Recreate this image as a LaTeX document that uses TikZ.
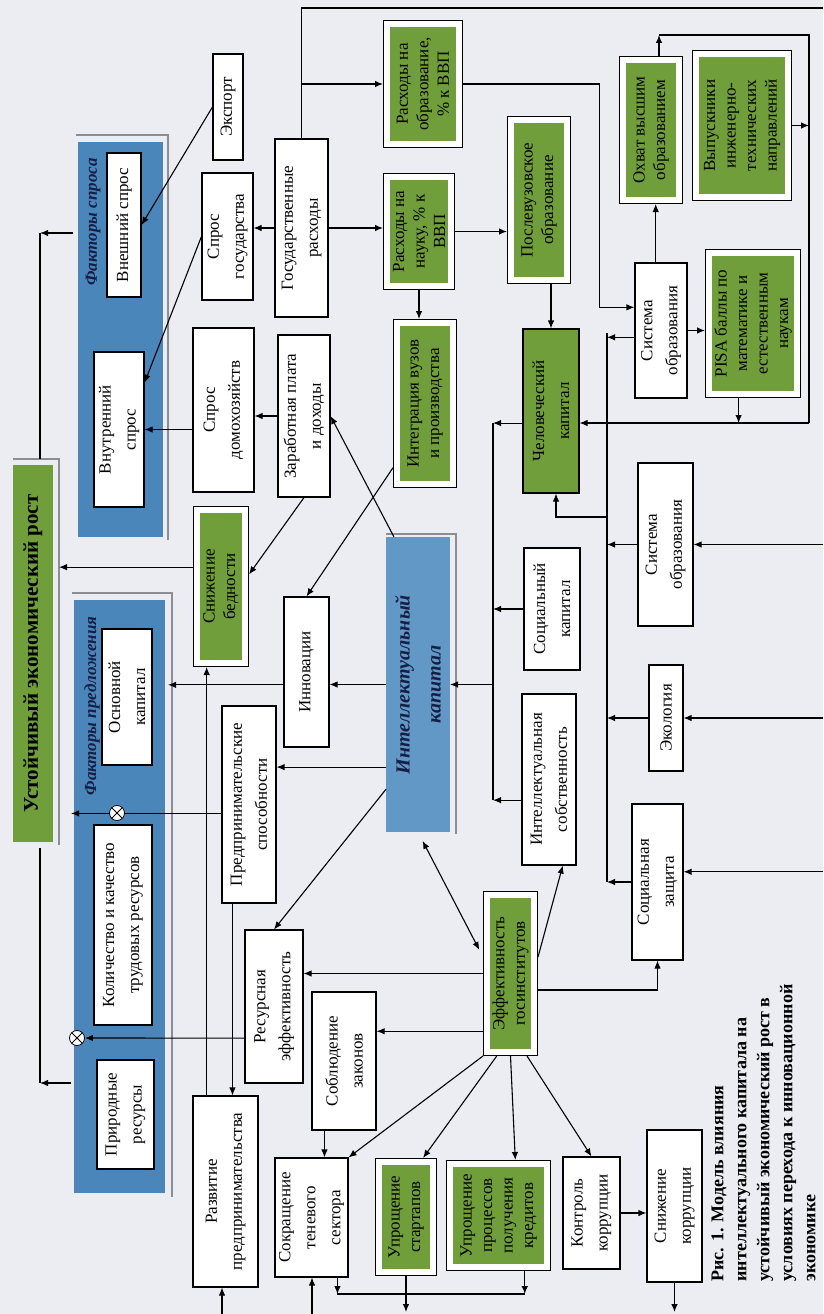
\documentclass[tikz,border=0pt]{standalone}
\usepackage{fontspec}
\setmainfont{Liberation Serif}
\usetikzlibrary{calc, arrows.meta}

\definecolor{paper}{RGB}{236,237,242}
\definecolor{leafgreen}{RGB}{112,158,58}
\definecolor{panelblue}{RGB}{74,134,186}
\definecolor{capblue}{RGB}{98,152,198}
\definecolor{shadowgray}{RGB}{140,142,150}
\definecolor{navy}{RGB}{22,30,68}

\begin{document}
\begin{tikzpicture}[
    x=1pt, y=-1pt,
    line width=1.1pt,
    >={Latex[length=8pt,width=6.5pt]},
    box/.style={draw, fill=white, rotate=90, align=center, inner sep=2pt,
        font=\fontsize{17}{25}\selectfont},
    gbox/.style={box, fill=leafgreen, draw=white, line width=6pt,
        preaction={draw=black, line width=8.4pt}, outer sep=4.2pt, inner sep=1pt,
        font=\fontsize{17}{20.5}\selectfont},
    gfill/.style={box, fill=leafgreen},
    panel/.style={rotate=90, fill=panelblue, inner sep=0pt, outer sep=0pt},
    paneltitle/.style={rotate=90, text=navy, inner sep=0pt,
        font=\bfseries\itshape\fontsize{17}{20}\selectfont},
    shade line/.style={shadowgray, line width=1.6pt},
    otimes/.style={circle, draw, fill=white, minimum size=15pt, inner sep=0pt,
        line width=0.8pt,
        path picture={\draw[line width=0.8pt]
            (path picture bounding box.north west) -- (path picture bounding box.south east)
            (path picture bounding box.south west) -- (path picture bounding box.north east);}}
]
\fill[paper] (0,0) rectangle (823,1314);
\useasboundingbox (0,0) rectangle (823,1314);

% growth and the two groups of factors
\node[rotate=90, fill=leafgreen, minimum width=377pt, minimum height=40pt, outer sep=6pt,
    font=\bfseries\fontsize{21}{24}\selectfont] (ustoich) at (33,653.5) {Устойчивый экономический рост};
\node[panel, minimum width=395pt, minimum height=85pt] (sprospanel) at (120.5,339.5) {};
\node[panel, minimum width=593pt, minimum height=91pt, outer sep=3pt] (predlpanel) at (119.5,896.5) {};
\node[rotate=90, fill=capblue, minimum width=295pt, minimum height=64pt, outer sep=0pt, align=center,
    text=navy, font=\bfseries\itshape\fontsize{20}{31}\selectfont] (intkap) at (418,684.5) {Интеллектуальный\\капитал};

\draw[shade line] ($(ustoich.north east)+(6,0)$) -- (ustoich.south east) -- ($(ustoich.south west)+(0,-3)$);
\draw[shade line] ($(sprospanel.north east)+(-2,-7)$) -- ($(sprospanel.south east)+(5,-7)$) -- ($(sprospanel.south west)+(5,3)$);
\draw[shade line] ($(predlpanel.north east)+(1,-4)$) -- ($(predlpanel.south east)+(4,-4)$) -- ($(predlpanel.south west)+(4,1)$);
\draw[shade line] ($(intkap.north east)+(0,-3)$) -- ($(intkap.south east)+(6,-3)$) -- ($(intkap.south west)+(6,2)$);

\node[paneltitle] (sprostitle) at (93,222) {Факторы спроса};
\node[paneltitle] (predltitle) at (92,706) {Факторы предложения};

\node[box, minimum width=144pt, minimum height=34pt] (vnesh) at (124,225) {Внешний спрос};
\node[box, minimum width=155pt, minimum height=50pt] (vnutr) at (119,429.5) {Внутренний\\спрос};
\node[box, minimum width=136pt, minimum height=50pt] (osnkap) at (127,697) {Основной\\капитал};
\node[box, minimum width=200pt, minimum height=58pt] (kolich) at (123,925) {Количество и качество\\трудовых ресурсов};
\node[box, minimum width=109pt, minimum height=57pt] (prirod) at (125.5,1114.5) {Природные\\ресурсы};

% demand side
\node[box, minimum width=106pt, minimum height=30pt] (export) at (228,107) {Экспорт};
\node[box, minimum width=127pt, minimum height=51pt] (sprosgos) at (227.5,236.5) {Спрос\\государства};
\node[box, minimum width=178pt, minimum height=53pt] (gosrash) at (301.5,228) {Государственные\\расходы};
\node[box, minimum width=164pt, minimum height=61pt] (sprosdom) at (223.5,410) {Спрос\\домохозяйств};
\node[box, minimum width=162pt, minimum height=52pt] (zarplata) at (304,416) {Заработная плата\\и доходы};
\node[gbox, minimum width=152.6pt, minimum height=47.6pt] (snizbed) at (221,586.5) {Снижение\\бедности};

% supply side
\node[box, minimum width=150pt, minimum height=45pt] (innov) at (306.5,672) {Инновации};
\node[box, minimum width=197pt, minimum height=54pt] (predspos) at (249,804.5) {Предпринимательские\\способности};
\node[box, minimum width=153pt, minimum height=58pt] (resurs) at (274,1006.5) {Ресурсная\\эффективность};
\node[box, minimum width=138pt, minimum height=64pt] (soblud) at (344,1061) {Соблюдение\\законов};
\node[box, minimum width=191pt, minimum height=65pt] (razvit) at (225.5,1191.5) {Развитие\\предпринимательства};
\node[box, minimum width=119pt, minimum height=73pt] (sokr) at (311.5,1217.5) {Сокращение\\теневого\\сектора};
\node[gbox, minimum width=109.6pt, minimum height=53.6pt] (uprstart) at (406,1217) {Упрощение\\стартапов};
\node[gbox, minimum width=102.6pt, minimum height=96.6pt] (uprkred) at (498.5,1215.5) {Упрощение\\процессов\\получения\\кредитов};
\node[box, minimum width=112pt, minimum height=57pt] (kontrol) at (591.5,1213) {Контроль\\коррупции};
\node[box, minimum width=152pt, minimum height=55pt] (snizkor) at (674.5,1206) {Снижение\\коррупции};
\node[gbox, minimum width=156.6pt, minimum height=46.6pt] (effgos) at (510.5,973.5) {Эффективность\\госинститутов};

% education and human capital
\node[gbox, minimum width=119.6pt, minimum height=71.6pt] (rashobr) at (423,84) {Расходы на\\образование,\\\% к ВВП};
\node[gbox, minimum width=108.6pt, minimum height=63.6pt] (rashnauk) at (419,231.5) {Расходы на\\науку, \% к\\ВВП};
\node[gbox, minimum width=160.6pt, minimum height=55.6pt] (integr) at (425,403.5) {Интеграция вузов\\и производства};
\node[gbox, minimum width=159.6pt, minimum height=55.6pt] (poslevuz) at (539,200) {Послевузовское\\образование};
\node[gfill, minimum width=164pt, minimum height=56pt] (chelkap) at (551,411) {Человеческий\\капитал};
\node[box, minimum width=122pt, minimum height=56pt] (socsap) at (552,609) {Социальный\\капитал};
\node[box, minimum width=171pt, minimum height=54pt] (intsob) at (549,779.5) {Интеллектуальная\\собственность};
\node[gbox, minimum width=139.6pt, minimum height=55.6pt] (ohvat) at (651,130) {Охват высшим\\образованием};
\node[gbox, minimum width=142.6pt, minimum height=91.6pt] (vypusk) at (742,125.5) {Выпускники\\инженерно-\\технических\\направлений};
\node[box, minimum width=135pt, minimum height=52pt] (sysobr1) at (661,330.5) {Система\\образования};
\node[gbox, minimum width=140.6pt, minimum height=87.6pt] (pisa) at (753,323.5) {PISA баллы по\\математике и\\естественным\\наукам};
\node[box, minimum width=163pt, minimum height=55pt] (sysobr2) at (665.5,544.5) {Система\\образования};
\node[box, minimum width=106pt, minimum height=34pt] (ekol) at (666,718) {Экология};
\node[box, minimum width=156pt, minimum height=51pt] (soczash) at (657.5,882) {Социальная\\защита};

\node[rotate=90, anchor=north west, align=left, inner sep=0pt,
    font=\bfseries\fontsize{18}{23}\selectfont] (caption) at (711,1282)
    {Рис. 1. Модель влияния\\интеллектуального капитала на\\устойчивый экономический рост в\\условиях перехода к инновационной\\экономике};

% demand connectors
\draw[->] (export.north) -- (vnesh.south);
\draw[->] (sprosgos.north) -- ($(vnutr.south)!0.6!(vnutr.south east)$);
\draw[->] (gosrash.north) -- (gosrash.north -| sprosgos.south);
\draw[->] (gosrash.south) -- (gosrash.south -| rashnauk.north);
\coordinate (topleft) at (302,8);
\coordinate (topright) at (823,8);
\draw (gosrash.east) -- (gosrash.east |- topleft) -- (topright);
\draw[->] (gosrash.east |- rashobr) -- (rashobr.north);
\draw[->] (sprosdom.north |- vnutr.south) -- (vnutr.south);
\draw[->] (zarplata.north) -- (zarplata.north -| sprosdom.south);
\draw[->] (zarplata.west) -- ($(snizbed.south)!0.15!(snizbed.south east)$);

% into growth
\coordinate (up1) at (40,233);
\coordinate (up2) at (40,1083);
\draw[->] ($(sprospanel.north |- up1)+(-5,0)$) -- (up1);
\draw (up1) -- (up1 |- ustoich.east);
\draw[->] (predlpanel.north |- up2) -- (up2);
\draw (up2) -- (up2 |- ustoich.west);
\coordinate (sb) at ($(snizbed.north)!0.24!(snizbed.north east)$);
\draw[->] (sb) -- (sb -| ustoich.south);

% supply connectors
\coordinate (in1) at ($(innov.north)!0.17!(innov.north west)$);
\draw[->] (in1) -- (in1 -| predlpanel.south);
\draw[->] (intkap.north) -- (intkap.north -| innov.south);
\coordinate (ik1) at ($(intkap.north)!0.56!(intkap.north west)$);
\draw[->] (ik1) -- (ik1 -| predspos.south);
\coordinate (ps1) at ($(predspos.north)!0.09!(predspos.north west)$);
\draw[->] (ps1) -- (ps1 -| predlpanel.north);
\node[otimes] (ot2) at (77,1038) {};
\coordinate (rs1) at ($(resurs.north)!0.41!(resurs.north west)$);
\draw[->] (rs1) -- (ot2);
\draw[->] ($(integr.north)!0.76!(integr.north west)$) -- (innov.east);
\draw[->] ($(intkap.east)!0.75!(intkap.north east)$) -- (zarplata.south);
\draw[->] ($(intkap.north)!0.71!(intkap.north west)$) -- (resurs.east);
\draw[<->, shorten <=10pt, shorten >=8pt] (intkap.west) -- ($(effgos.north)!0.2!(effgos.north east)$);

% institutions
\draw[->] (effgos.north) -- (effgos.north -| resurs.south);
\coordinate (ef2) at ($(effgos.north)!0.7!(effgos.north west)$);
\draw[->] (ef2) -- (ef2 -| soblud.south);
\coordinate (sl1) at ($(soblud.west)!0.6!(soblud.north west)$);
\draw[->] (sl1) -- (sl1 |- sokr.east);
\draw[->] (effgos.north west) -- (sokr.south east);
\draw[->] ($(effgos.west)!0.5!(effgos.north west)$) -- ($(uprstart.east)!0.55!(uprstart.south east)$);
\draw[->] (effgos.west) -- ($(uprkred.east)!0.32!(uprkred.south east)$);
\draw[->] ($(effgos.west)!0.6!(effgos.south west)$) -- (kontrol.east);
\draw[->] ($(effgos.south)!0.2!(effgos.south east)$) -- ($(intsob.west)!0.5!(intsob.south west)$);
\coordinate (ef3) at ($(effgos.south)!0.2!(effgos.south west)$);
\draw[->] (ef3) -| (soczash.west);
\draw[->] (kontrol.south) -- (kontrol.south -| snizkor.north);

% entrepreneurship
\coordinate (rv1) at ($(razvit.east)!0.57!(razvit.north east)$);
\draw[->] (rv1) -- (rv1 |- snizbed.west);
\coordinate (ps2) at ($(predspos.west)!0.6!(predspos.north west)$);
\draw[->] (ps2) -- (ps2 |- razvit.east);

% lower edge
\coordinate (bot1) at (222,1314);
\coordinate (bot2) at (312,1314);
\coordinate (botline) at (0,1312);
\draw[->] (bot1) -- (bot1 |- razvit.west);
\draw[->] (bot2) -- (bot2 |- sokr.west);
\draw[->] (uprstart.west) -- (uprstart.west |- botline);
\draw[->] (snizkor.west) -- (snizkor.west |- botline);
\coordinate (sk1) at ($(sokr.west)!0.7!(sokr.south west)$);
\coordinate (uk1) at ($(uprkred.west)!0.5!(uprkred.south west)$);
\coordinate (join) at (0,1294);
\draw[->] (sk1) -- (sk1 |- join);
\draw[->] (uk1) -- (uk1 |- join);
\draw (sk1 |- join) -- (uk1 |- join);

% education loop
\draw[->] (rashnauk.south) -- (rashnauk.south -| poslevuz.north);
\draw[->] (rashnauk.west) -- (rashnauk.west |- integr.east);
\coordinate (pv1) at ($(poslevuz.west)!0.375!(poslevuz.south west)$);
\draw[->] (pv1) -- (pv1 |- chelkap.east);
\coordinate (so1) at ($(sysobr1.north)!0.34!(sysobr1.north east)$);
\draw[->] (rashobr.south) -| ($(so1)+(-35,0)$) -- (so1);
\coordinate (so2) at ($(sysobr1.east)!0.2!(sysobr1.north east)$);
\draw[->] (so2) -- (so2 |- ohvat.west);
\coordinate (ov1) at ($(ohvat.east)!0.25!(ohvat.south east)$);
\coordinate (loop1) at (809,35);
\coordinate (loop2) at (809,423);
\draw[->] (ov1) -- (ov1 |- loop1);
\draw (ov1 |- loop1) -- (loop1) -- (loop2);
\draw[->] (vypusk.south) -- (vypusk.south -| loop1);
\draw[->] (sysobr1.south) -- (sysobr1.south -| pisa.north);
\coordinate (ps3) at ($(pisa.west)!0.3!(pisa.north west)$);
\draw[->] (ps3) -- (ps3 |- loop2);
\draw[->] (loop2) -- (loop2 -| chelkap.south);

% right bus
\coordinate (rbt) at (607,333);
\coordinate (rbb) at (607,882);
\draw (rbt) -- (rbb);
\coordinate (so3) at ($(sysobr1.north)!0.1!(sysobr1.north west)$);
\draw[->] (so3) -- (so3 -| rbt);
\draw[->] (sysobr2.north) -- (sysobr2.north -| rbt);
\draw[->] (ekol.north) -- (ekol.north -| rbt);
\draw[->] (soczash.north) -- (soczash.north -| rbt);
\coordinate (rb1) at (607,517);
\draw[->] (rb1) -| ($(chelkap.west)+(5,0)$);
\coordinate (redge) at (823,0);
\draw[->] (sysobr2.south -| redge) -- (sysobr2.south);
\draw[->] (ekol.south -| redge) -- (ekol.south);
\coordinate (sz1) at ($(soczash.south)!0.13!(soczash.south east)$);
\draw[->] (sz1 -| redge) -- (sz1);

% left bus
\coordinate (lbt) at (493,423);
\coordinate (lbb) at (493,800);
\draw (lbt) -- (lbb);
\coordinate (ck1) at ($(chelkap.north)!0.146!(chelkap.north west)$);
\draw[->] (ck1) -- (ck1 -| lbt);
\draw[->] (socsap.north) -- (socsap.north -| lbt);
\coordinate (is1) at ($(intsob.north)!0.24!(intsob.north west)$);
\draw[->] (is1) -- (is1 -| lbt);
\draw[->] (intkap.south -| lbt) -- (intkap.south);

\node[otimes] (ot1) at (117,813) {};
\end{tikzpicture}
\end{document}
